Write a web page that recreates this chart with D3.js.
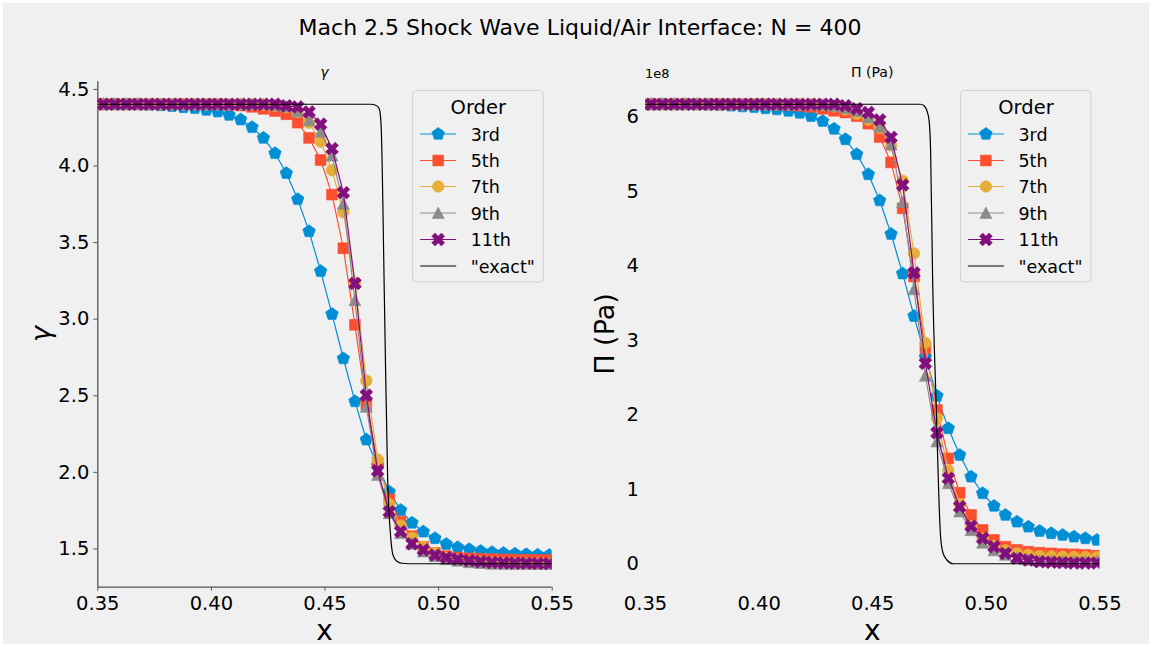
<!DOCTYPE html>
<html>
<head>
<meta charset="utf-8">
<script src="https://cdn.jsdelivr.net/npm/d3@7"></script>
<style>
    body { margin: 0; background: #ffffff; font-family: "DejaVu Sans", sans-serif; }
</style>
</head>
<body>
<div id="chart"></div>
<script>

// cell positions (every other cell of the N = 400 grid)
var xCells = [0.3527, 0.3577, 0.3628, 0.3678, 0.3728, 0.3779, 0.3829, 0.3879, 0.3929, 0.3980,
              0.4030, 0.4080, 0.4131, 0.4181, 0.4231, 0.4282, 0.4332, 0.4382, 0.4432, 0.4483,
              0.4533, 0.4583, 0.4634, 0.4684, 0.4734, 0.4785, 0.4835, 0.4885, 0.4935, 0.4986,
              0.5036, 0.5086, 0.5137, 0.5187, 0.5237, 0.5288, 0.5338, 0.5388, 0.5438, 0.5489];

var orders = ["3rd", "5th", "7th", "9th", "11th"];

// gamma
var gamma3 = [4.40, 4.40, 4.40, 4.40, 4.397, 4.393, 4.388, 4.38, 4.375, 4.363,
              4.352, 4.33, 4.30, 4.25, 4.18, 4.08, 3.95, 3.78, 3.57, 3.31,
              3.03, 2.74, 2.46, 2.21, 2.04, 1.87, 1.75, 1.667, 1.609, 1.566,
              1.528, 1.507, 1.494, 1.483, 1.475, 1.469, 1.465, 1.461, 1.458, 1.456];
var gamma5 = [4.40, 4.40, 4.40, 4.40, 4.40, 4.40, 4.40, 4.40, 4.40, 4.40,
              4.40, 4.397, 4.392, 4.383, 4.37, 4.356, 4.335, 4.28, 4.18, 4.036,
              3.81, 3.46, 2.96, 2.44, 2.06, 1.82, 1.675, 1.58, 1.51, 1.47,
              1.45, 1.44, 1.435, 1.432, 1.43, 1.428, 1.427, 1.426, 1.425, 1.425];
var gamma7 = [4.40, 4.40, 4.40, 4.40, 4.40, 4.40, 4.40, 4.40, 4.40, 4.40,
              4.40, 4.40, 4.40, 4.40, 4.397, 4.39, 4.38, 4.35, 4.28, 4.156,
              3.97, 3.695, 3.237, 2.595, 2.08, 1.79, 1.65, 1.57, 1.51, 1.47,
              1.44, 1.425, 1.415, 1.41, 1.405, 1.402, 1.40, 1.40, 1.40, 1.40];
var gamma9 = [4.40, 4.40, 4.40, 4.40, 4.40, 4.40, 4.40, 4.40, 4.40, 4.40,
              4.40, 4.40, 4.40, 4.40, 4.40, 4.395, 4.385, 4.355, 4.295, 4.22,
              4.065, 3.75, 3.12, 2.425, 1.98, 1.73, 1.60, 1.53, 1.48, 1.45,
              1.43, 1.42, 1.41, 1.405, 1.40, 1.40, 1.40, 1.40, 1.40, 1.40];
var gamma11 = [4.40, 4.40, 4.40, 4.40, 4.40, 4.40, 4.40, 4.40, 4.40, 4.40,
               4.40, 4.40, 4.40, 4.40, 4.40, 4.40, 4.39, 4.383, 4.35, 4.27,
               4.11, 3.823, 3.23, 2.50, 2.007, 1.74, 1.61, 1.53, 1.49, 1.456,
               1.44, 1.43, 1.42, 1.413, 1.408, 1.405, 1.403, 1.402, 1.401, 1.40];
var gammaExactX = [0.35, 0.4705, 0.4722, 0.4735, 0.4743, 0.4750, 0.4764, 0.4778, 0.4790, 0.4798, 0.4806, 0.4820, 0.4840, 0.4870, 0.55];
var gammaExact  = [4.40, 4.40, 4.395, 4.385, 4.36, 4.23, 3.10, 1.95, 1.60, 1.48, 1.44, 1.415, 1.403, 1.40, 1.40];

// Pi, in units of 1e8 Pa
var pi3 = [6.16, 6.16, 6.16, 6.16, 6.16, 6.155, 6.15, 6.14, 6.13, 6.12,
           6.105, 6.09, 6.07, 6.045, 6.00, 5.935, 5.83, 5.69, 5.49, 5.22,
           4.87, 4.42, 3.89, 3.32, 2.77, 2.25, 1.815, 1.457, 1.166, 0.944,
           0.774, 0.653, 0.563, 0.496, 0.438, 0.408, 0.385, 0.362, 0.34, 0.318];
var pi5 = [6.16, 6.16, 6.16, 6.16, 6.16, 6.16, 6.16, 6.16, 6.16, 6.16,
           6.16, 6.155, 6.15, 6.14, 6.125, 6.10, 6.073, 6.05, 6.00, 5.90,
           5.72, 5.38, 4.765, 3.85, 2.89, 2.06, 1.413, 0.952, 0.653, 0.452,
           0.318, 0.228, 0.184, 0.161, 0.147, 0.139, 0.13, 0.126, 0.117, 0.107];
var pi7 = [6.16, 6.16, 6.16, 6.16, 6.16, 6.16, 6.16, 6.16, 6.16, 6.16,
           6.16, 6.16, 6.16, 6.16, 6.16, 6.15, 6.13, 6.09, 6.03, 5.95,
           5.84, 5.61, 5.135, 4.16, 2.96, 1.95, 1.25, 0.80, 0.50, 0.34,
           0.24, 0.18, 0.14, 0.12, 0.105, 0.10, 0.095, 0.092, 0.09, 0.088];
var pi9 = [6.16, 6.16, 6.16, 6.16, 6.16, 6.16, 6.16, 6.16, 6.16, 6.16,
           6.16, 6.16, 6.16, 6.16, 6.16, 6.155, 6.14, 6.11, 6.07, 5.985,
           5.86, 5.62, 4.85, 3.68, 2.52, 1.64, 1.08, 0.70, 0.45, 0.28,
           0.18, 0.12, 0.08, 0.055, 0.04, 0.035, 0.03, 0.03, 0.03, 0.03];
var pi11 = [6.16, 6.16, 6.16, 6.16, 6.16, 6.16, 6.16, 6.16, 6.16, 6.16,
            6.16, 6.16, 6.16, 6.16, 6.16, 6.16, 6.16, 6.14, 6.10, 6.05,
            5.95, 5.717, 5.077, 3.90, 2.687, 1.756, 1.145, 0.764, 0.505, 0.341,
            0.228, 0.139, 0.072, 0.05, 0.027, 0.02, 0.015, 0.01, 0.01, 0.01];
var piExactX = [0.35, 0.4712, 0.4728, 0.4740, 0.4750, 0.4757, 0.4766, 0.4781, 0.4801, 0.4812, 0.4829, 0.4856, 0.55];
var piExact  = [6.16, 6.16, 6.14, 6.08, 5.95, 5.55, 3.80, 2.19, 0.36, 0.14, 0.05, 0.0, 0.0];

// ticks
var xTicks = [0.35, 0.40, 0.45, 0.50, 0.55];
var gammaTicks = [1.5, 2.0, 2.5, 3.0, 3.5, 4.0, 4.5];
var piTicks = [0, 1, 2, 3, 4, 5, 6];

var colors = ["#008fd5", "#fc4f30", "#e5ae38", "#8b8b8b", "#810f7c"];
var markers = ["p", "s", "o", "^", "X"];

var W = 1152, H = 647;

var svg = d3.select("#chart").append("svg")
    .attr("width", W)
    .attr("height", H);

svg.append("rect")
    .attr("x", 3).attr("y", 3)
    .attr("width", W - 6).attr("height", H - 6)
    .attr("fill", "#f0f0f0");

svg.append("text")
    .attr("x", 580)
    .attr("y", 35)
    .style("text-anchor", "middle")
    .style("font-size", "22px")
    .text("Mach 2.5 Shock Wave Liquid/Air Interface: N = 400");

// marker shapes, centered on 0,0
function markerPath(kind) {
    var pts = [], i, a;
    if (kind == "o") {
        var r = 5.8;
        return "M" + r + ",0A" + r + "," + r + " 0 1,1 " + (-r) + ",0A" + r + "," + r + " 0 1,1 " + r + ",0Z";
    }
    if (kind == "p") {
        for (i = 0; i < 5; i++) {
            a = -Math.PI / 2 + i * 2 * Math.PI / 5;
            pts.push([6.6 * Math.cos(a), 6.6 * Math.sin(a)]);
        }
    } else if (kind == "s") {
        pts = [[-5.4, -5.4], [5.4, -5.4], [5.4, 5.4], [-5.4, 5.4]];
    } else if (kind == "^") {
        pts = [[0, -6], [6, 5.5], [-6, 5.5]];
    } else if (kind == "X") {
        var L = 6.8, w = 2.3;
        var plus = [[w, L], [w, w], [L, w], [L, -w], [w, -w], [w, -L], [-w, -L], [-w, -w], [-L, -w], [-L, w], [-w, w], [-w, L]];
        var c = Math.cos(Math.PI / 4), s = Math.sin(Math.PI / 4);
        pts = plus.map(function(p) { return [p[0] * c - p[1] * s, p[0] * s + p[1] * c]; });
    }
    return "M" + pts.map(function(p) { return p[0].toFixed(2) + "," + p[1].toFixed(2); }).join("L") + "Z";
}

/*
 * PanelVis - one subplot
 */
PanelVis = function(_opts) {
    this.opts = _opts;
    this.initVis();
};

PanelVis.prototype.initVis = function() {
    var vis = this, o = vis.opts;

    vis.top = 81.3;
    vis.bottom = 586.7;

    vis.x = d3.scaleLinear()
        .domain([0.35, 0.55])
        .range([o.left, o.left + 454.4]);

    vis.y = d3.scaleLinear()
        .domain(o.yDomain)
        .range([vis.bottom, vis.top]);

    vis.g = svg.append("g");

    vis.g.append("clipPath")
        .attr("id", o.id + "-clip")
        .append("rect")
        .attr("x", o.left)
        .attr("y", vis.top)
        .attr("width", 454.4)
        .attr("height", vis.bottom - vis.top);

    // axes
    var tickLen = o.spines ? 4 : 0;
    vis.xAxis = d3.axisBottom(vis.x)
        .tickValues(xTicks)
        .tickFormat(d3.format(".2f"))
        .tickSize(tickLen)
        .tickPadding(o.spines ? 5 : 9);
    vis.yAxis = d3.axisLeft(vis.y)
        .tickValues(o.yTicks)
        .tickFormat(o.yFormat)
        .tickSize(tickLen)
        .tickPadding(o.spines ? 4 : 6);

    vis.xAxisGroup = vis.g.append("g")
        .attr("class", "x-axis axis")
        .attr("transform", "translate(0," + vis.bottom + ")")
        .call(vis.xAxis);
    vis.yAxisGroup = vis.g.append("g")
        .attr("class", "y-axis axis")
        .attr("transform", "translate(" + o.left + ",0)")
        .call(vis.yAxis);

    vis.g.selectAll(".axis text")
        .style("font-family", "DejaVu Sans")
        .style("font-size", "19.5px")
        .attr("fill", "#000");
    vis.g.selectAll(".axis line").attr("stroke", "#555");
    vis.g.selectAll(".axis .domain")
        .attr("stroke", o.spines ? "#555" : "none")
        .attr("stroke-width", 1.3);
    // only the spine itself, no end caps beyond the data area
    vis.xAxisGroup.select(".domain").attr("d", "M" + o.left + ",0.5H" + (o.left + 454.4));
    vis.yAxisGroup.select(".domain").attr("d", "M0.5," + vis.bottom + "V" + vis.top);

    // series
    var plot = vis.g.append("g").attr("clip-path", "url(#" + o.id + "-clip)");
    var line = d3.line()
        .x(function(d) { return vis.x(d[0]); })
        .y(function(d) { return vis.y(d[1]); });

    o.series.forEach(function(vals, k) {
        var pts = xCells.map(function(xv, i) { return [xv, vals[i]]; });
        plot.append("path")
            .attr("d", line(pts))
            .attr("fill", "none")
            .attr("stroke", colors[k])
            .attr("stroke-width", 1.2);
        plot.selectAll(".m" + k)
            .data(pts)
            .enter()
            .append("path")
            .attr("class", "m" + k)
            .attr("d", markerPath(markers[k]))
            .attr("transform", function(d) { return "translate(" + vis.x(d[0]) + "," + vis.y(d[1]) + ")"; })
            .attr("fill", colors[k])
            .attr("stroke", colors[k])
            .attr("stroke-width", 0.6);
    });

    var exactPts = o.exactX.map(function(xv, i) { return [xv, o.exact[i]]; });
    plot.append("path")
        .attr("d", line.curve(d3.curveMonotoneX)(exactPts))
        .attr("fill", "none")
        .attr("stroke", "#000")
        .attr("stroke-width", 1.2);

    // titles
    var cx = o.left + 227.2;
    vis.g.append("text")
        .attr("x", cx)
        .attr("y", 77)
        .style("text-anchor", "middle")
        .style("font-size", "14px")
        .style("font-style", o.titleItalic ? "italic" : "normal")
        .text(o.title);
    vis.g.append("text")
        .attr("x", cx)
        .attr("y", 640)
        .style("text-anchor", "middle")
        .style("font-size", "28px")
        .text("x");
    vis.g.append("text")
        .attr("transform", "translate(" + o.ylabelX + ",334) rotate(-90)")
        .style("text-anchor", "middle")
        .style("font-size", "27px")
        .style("font-style", o.titleItalic ? "italic" : "normal")
        .text(o.title);

    if (o.offsetText) {
        vis.g.append("text")
            .attr("x", o.left)
            .attr("y", 78)
            .style("font-size", "13px")
            .text(o.offsetText);
    }

    // legend
    var lx = o.left + 315.4, ly = 90.5;
    var leg = vis.g.append("g").attr("transform", "translate(" + lx + "," + ly + ")");
    leg.append("rect")
        .attr("width", 130.6)
        .attr("height", 191.5)
        .attr("rx", 4)
        .attr("fill", "#f0f0f0")
        .attr("stroke", "#d0d0d0")
        .attr("stroke-width", 1);
    leg.append("text")
        .attr("x", 65.6)
        .attr("y", 23)
        .style("text-anchor", "middle")
        .style("font-size", "19.5px")
        .text("Order");
    var rowY = [43.5, 70, 96, 122.5, 149, 175.5];
    orders.forEach(function(name, k) {
        leg.append("line")
            .attr("x1", 7.5).attr("x2", 43.5)
            .attr("y1", rowY[k]).attr("y2", rowY[k])
            .attr("stroke", colors[k])
            .attr("stroke-width", 1.2);
        leg.append("path")
            .attr("d", markerPath(markers[k]))
            .attr("transform", "translate(25.5," + rowY[k] + ")")
            .attr("fill", colors[k])
            .attr("stroke", colors[k])
            .attr("stroke-width", 0.6);
        leg.append("text")
            .attr("x", 58)
            .attr("y", rowY[k] + 6.5)
            .style("font-size", "17.5px")
            .text(name);
    });
    leg.append("line")
        .attr("x1", 7.5).attr("x2", 43.5)
        .attr("y1", rowY[5]).attr("y2", rowY[5])
        .attr("stroke", "#000")
        .attr("stroke-width", 1.2);
    leg.append("text")
        .attr("x", 58)
        .attr("y", rowY[5] + 6.5)
        .style("font-size", "17.5px")
        .text("\"exact\"");
};

var gammaPanel = new PanelVis({
    id: "gamma",
    left: 97.3,
    yDomain: [1.25, 4.55],
    yTicks: gammaTicks,
    yFormat: d3.format(".1f"),
    series: [gamma3, gamma5, gamma7, gamma9, gamma11],
    exactX: gammaExactX,
    exact: gammaExact,
    spines: true,
    title: "\u03b3",
    titleItalic: true,
    ylabelX: 50
});

var piPanel = new PanelVis({
    id: "pi",
    left: 645,
    yDomain: [-0.308, 6.468],
    yTicks: piTicks,
    yFormat: d3.format("d"),
    series: [pi3, pi5, pi7, pi9, pi11],
    exactX: piExactX,
    exact: piExact,
    spines: false,
    title: "\u03a0 (Pa)",
    titleItalic: false,
    ylabelX: 614,
    offsetText: "1e8"
});

</script>
</body>
</html>
